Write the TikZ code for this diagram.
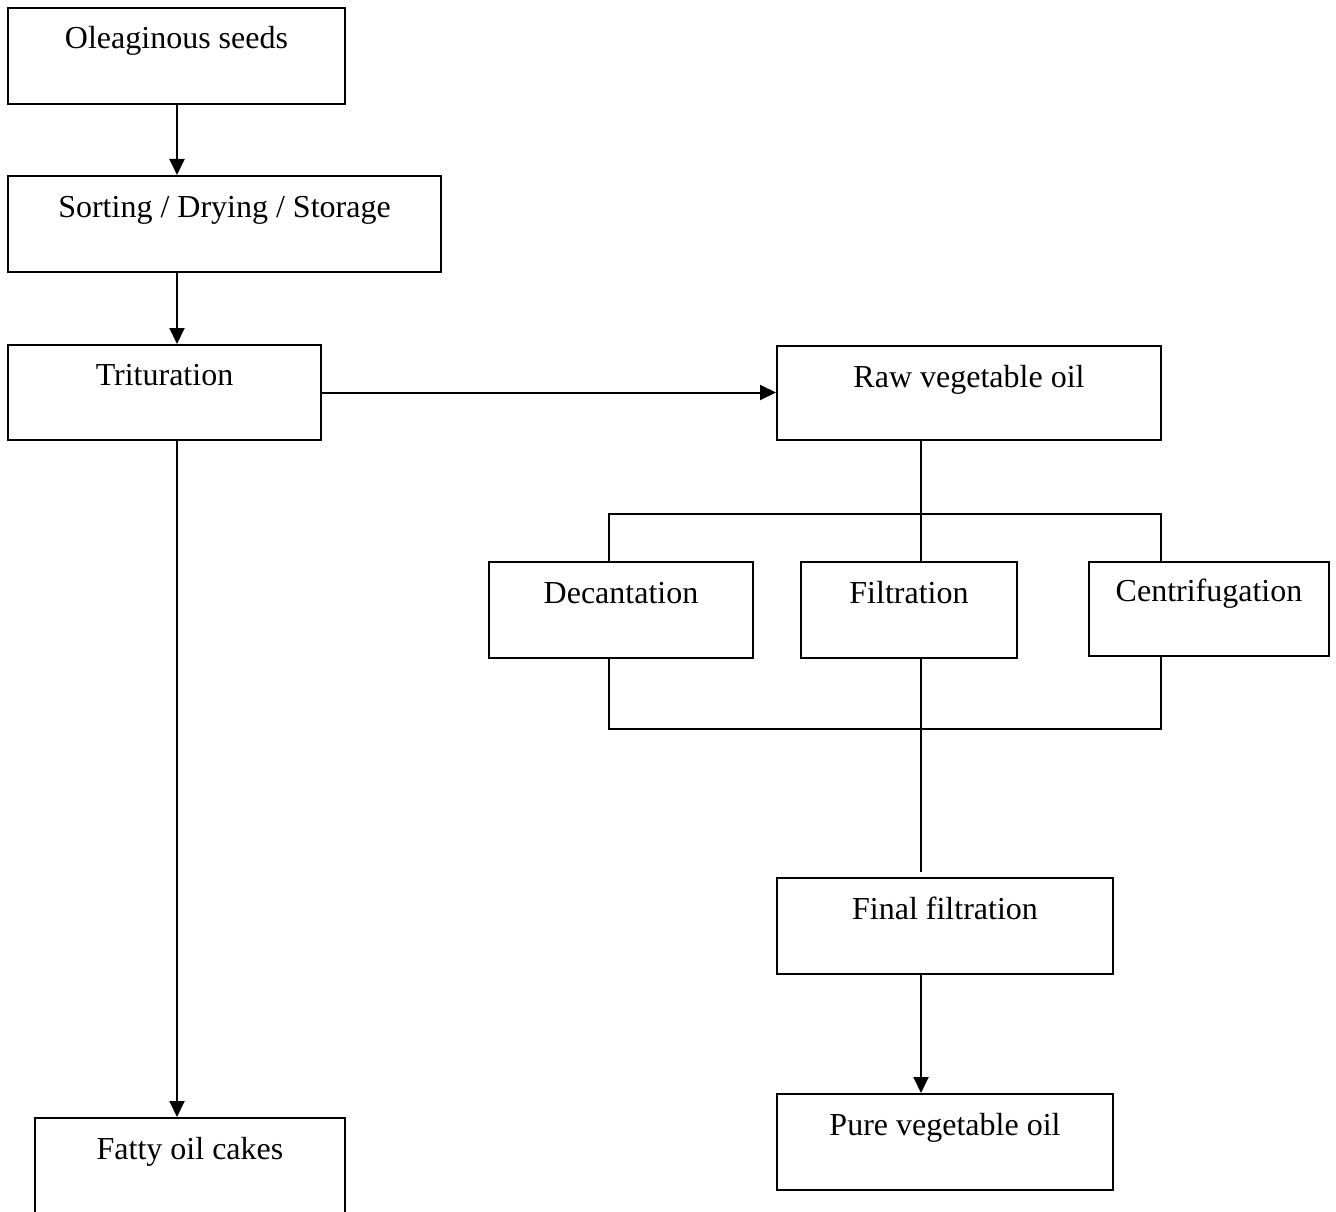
\documentclass[tikz,border=0pt]{standalone}
\usepackage{fontspec}
\setmainfont{Liberation Serif}
\usetikzlibrary{arrows.meta}
\begin{document}
\begin{tikzpicture}[x=1pt,y=-1pt,
  box/.style={draw, line width=2pt, rectangle, inner sep=0pt},
  lbl/.style={anchor=base, inner sep=0pt, font=\fontsize{32}{38}\selectfont},
  conn/.style={line width=2pt},
  arr/.style={line width=2pt, -{Triangle[length=16pt,width=15pt]}}]
\path[use as bounding box] (0,0) rectangle (1336,1212);
\clip (0,0) rectangle (1336,1212);
\fill[white] (0,0) rectangle (1336,1212);
% boxes
\node[box, minimum width=337pt, minimum height=96pt] (b1) at (176.5,56) {};
\node[box, minimum width=433pt, minimum height=96pt] (b2) at (224.5,224) {};
\node[box, minimum width=313pt, minimum height=95pt] (b3) at (164.5,392.5) {};
\node[box, minimum width=384pt, minimum height=94pt] (b4) at (969,393) {};
\node[box, minimum width=264pt, minimum height=96pt] (b5) at (621,610) {};
\node[box, minimum width=216pt, minimum height=96pt] (b6) at (909,610) {};
\node[box, minimum width=240pt, minimum height=94pt] (b7) at (1209,609) {};
\node[box, minimum width=336pt, minimum height=96pt] (b8) at (945,926) {};
\node[box, minimum width=336pt, minimum height=96pt] (b9) at (945,1142) {};
\node[box, minimum width=310pt, minimum height=96pt] (b10) at (190,1166) {};
% labels
\node[lbl] (t1) at ([yshift=-42pt]b1.north) {Oleaginous seeds};
\node[lbl] (t2) at ([yshift=-42pt]b2.north) {Sorting / Drying / Storage};
\node[lbl] (t3) at ([yshift=-41pt]b3.north) {Trituration};
\node[lbl] (t4) at ([yshift=-42pt]b4.north) {Raw vegetable oil};
\node[lbl] (t5) at ([yshift=-42pt]b5.north) {Decantation};
\node[lbl] (t6) at ([yshift=-42pt]b6.north) {Filtration};
\node[lbl] (t7) at ([yshift=-40pt]b7.north) {Centrifugation};
\node[lbl] (t8) at ([yshift=-42pt]b8.north) {Final filtration};
\node[lbl] (t9) at ([yshift=-42pt]b9.north) {Pure vegetable oil};
\node[lbl] (t10) at ([yshift=-42pt]b10.north) {Fatty oil cakes};
% coordinates
\coordinate (lx) at (177,0);
\coordinate (jt) at (921,514);
\coordinate (tl) at (609,514);
\coordinate (tr) at (1161,514);
\coordinate (bl) at (609,729);
\coordinate (br) at (1161,729);
\coordinate (fe) at (921,872);
% connectors
\draw[arr] (lx |- b1.south) -- (lx |- b2.north);
\draw[arr] (lx |- b2.south) -- (lx |- b3.north);
\draw[arr] (b3.east) -- (b3.east -| b4.west);
\draw[arr] (lx |- b3.south) -- (lx |- b10.north);
\draw[conn] (jt |- b4.south) -- (jt);
\draw[conn] (tl |- b5.north) -- (tl) -- (tr) -- (tr |- b7.north);
\draw[conn] (jt) -- (jt |- b6.north);
\draw[conn] (tl |- b5.south) -- (bl) -- (br) -- (tr |- b7.south);
\draw[conn] (jt |- b6.south) -- (fe);
\draw[arr] (fe |- b8.south) -- (fe |- b9.north);
\end{tikzpicture}
\end{document}
